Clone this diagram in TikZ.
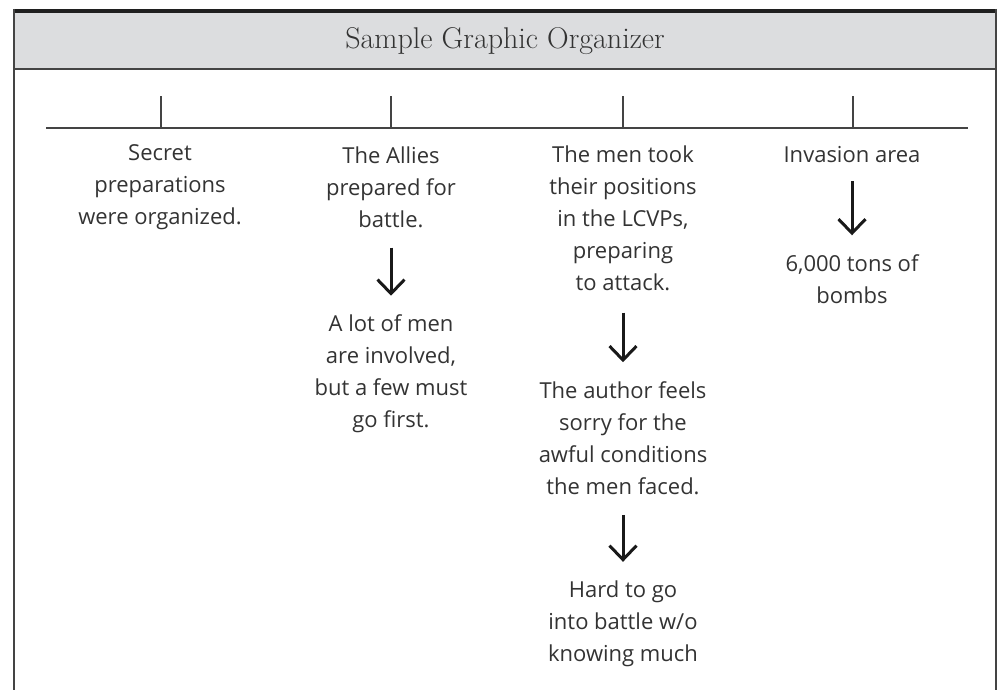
\documentclass[tikz,border=0pt]{standalone}
\usepackage{fontspec}
\newfontfamily\bodyfont{Open Sans}
\usetikzlibrary{arrows.meta}
\definecolor{band}{HTML}{DCDDDF}
\definecolor{ink}{HTML}{333333}
\definecolor{rule}{HTML}{444444}
\tikzset{
  txt/.style={align=center,inner sep=0pt,text=ink,font=\bodyfont\fontsize{22}{32}\selectfont},
  arr/.style={draw=black!90,line width=3pt,-{Straight Barb[length=14pt,width=27pt,line width=3pt]}},
  tick/.style={draw=rule,line width=1.6pt},
  frame/.style={draw=rule,line width=2pt}
}
\begin{document}
\begin{tikzpicture}[x=1pt,y=-1pt]
\useasboundingbox (0,0) rectangle (998,690);
% header band
\fill[band] (14,13) rectangle (996,69);
\fill[black!88] (13,9) rectangle (997,13.5);
\draw[frame] (14,9) -- (14,690);
\draw[frame] (996,9) -- (996,690);
\draw[frame] (14,69) -- (996,69);
\node[inner sep=0pt,text=ink,font=\fontsize{30}{34}\selectfont] (title) at (505,41) {Sample Graphic Organizer};
% timeline
\coordinate (tl) at (46,128);
\coordinate (tr) at (968,128);
\draw[tick] (tl) -- (tr);
\foreach \x/\n in {161/t1,391/t2,623/t3,853/t4}{
  \coordinate (\n) at (\x,128);
  \coordinate (\n top) at (\x,96);
  \draw[tick] (\n) -- (\n top);
}
% column 1
\node[txt] (c1a) at (160,187) {Secret\\preparations\\were organized.};
% column 2
\node[txt] (c2a) at (391,187) {The Allies\\prepared for\\battle.};
\node[txt] (c2b) at (391,374) {A lot of men\\are involved,\\but a few must\\go first.};
% column 3
\node[txt] (c3a) at (623,218) {The men took\\their positions\\in the LCVPs,\\preparing\\to attack.};
\node[txt] (c3b) at (623,438) {The author feels\\sorry for the\\awful conditions\\the men faced.};
\node[txt] (c3c) at (623,624) {Hard to go\\into battle w/o\\knowing much};
% column 4
\node[txt] (c4a) at (852,155) {Invasion area};
\node[txt] (c4b) at (852,279) {6,000 tons of\\bombs};
% arrows
\draw[arr,shorten <=20pt,shorten >=19pt] (c2a.south) -- (c2b.north);
\draw[arr,shorten <=22pt,shorten >=19pt] (c3a.south) -- (c3b.north);
\draw[arr,shorten <=20pt,shorten >=19pt] (c3b.south) -- (c3c.north);
\draw[arr,shorten <=18pt,shorten >=19pt] (c4a.south) -- (c4b.north);
\end{tikzpicture}
\end{document}
